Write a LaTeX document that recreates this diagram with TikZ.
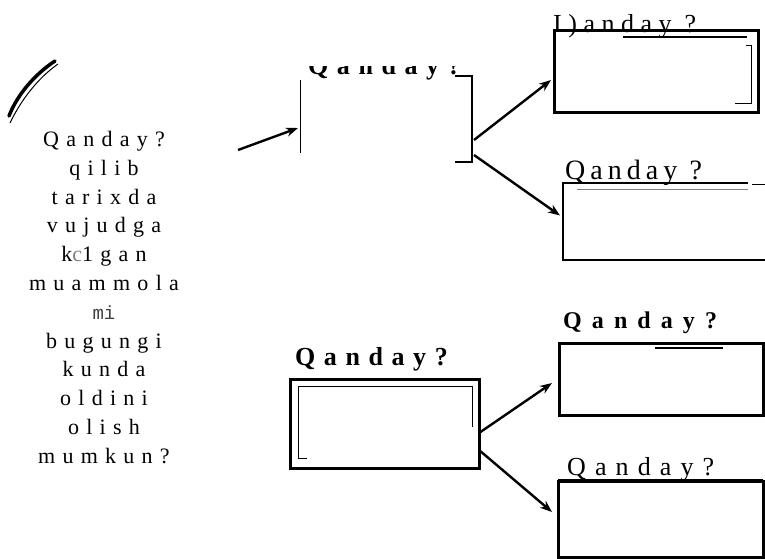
\documentclass[tikz,border=0pt]{standalone}
\usepackage{fontspec}
\setmainfont{Liberation Serif}
\newfontfamily\monof{Liberation Mono}
\usetikzlibrary{arrows.meta,calc}
\tikzset{
  arr/.style={line width=2.4pt,-{Stealth[length=12pt,width=9pt]}},
  frame/.style={draw,line width=3pt,inner sep=0pt,outer sep=0pt},
  area/.style={inner sep=0pt,outer sep=0pt},
  lbl/.style={inner sep=0pt,anchor=base west},
}
\begin{document}
\begin{tikzpicture}[x=1pt,y=-1pt]
\useasboundingbox (0,0) rectangle (765,558);

% arc at top left
\draw[line width=3.5pt,line cap=round] (55,61) .. controls (35,74) and (17,95) .. (9,116);
\draw[line width=1pt] (58,64) .. controls (38,78) and (21,100) .. (10,123);

% left text
\node[align=center,inner sep=0pt,anchor=north,
      font=\fontsize{22}{28.8}\selectfont\addfontfeature{LetterSpace=33}] (txt) at (104,131)
 {Qanday?\\qilib\\tarixda\\vujudga\\k{\color{gray}c}1gan\\muammola\\
  {\monof\color{darkgray}\fontsize{19}{28.8}\selectfont mi}\\bugungi\\kunda\\oldini\\olish\\mumkun?};

% middle top (open) box
\node[area,minimum width=172pt,minimum height=86pt] (mid) at (386,119) {};
\draw[line width=1pt] ($(mid.north west)+(0,4)$) -- ($(mid.south west)+(0,-9)$);
\draw[line width=2pt] ($(mid.north east)+(-17,0)$) -- (mid.north east) -- (mid.south east) -- ($(mid.south east)+(-17,0)$);
\begin{scope}
  \clip (290,66) rectangle (470,90);
  \node[lbl,font=\bfseries\fontsize{26}{26}\selectfont\addfontfeature{LetterSpace=33}] (t0) at (308,74) {Qanday?};
\end{scope}
\coordinate (s0) at (238,150);
\draw[arr] (s0) -- ($(mid.west)+(-2,9)$);
\coordinate (mo1) at ($(mid.east)+(2,21)$);
\coordinate (mo2) at ($(mid.east)+(2,36)$);

% top right box
\node[frame,minimum width=204pt,minimum height=82pt] (b1) at (656,71) {};
\node[lbl,font=\fontsize{26}{26}\selectfont\addfontfeature{LetterSpace=25}] (t1) at (553,32) {I)anday ?};
\draw[line width=1.6pt] (623,37) -- (747,37);
\draw[line width=1pt] (746,45) -- (751,45) -- (751,103) -- (735,103);
\draw[arr] (mo1) -- ($(b1.west)+(-3,9)$);

% second right box (open right side)
\node[area,minimum width=202pt,minimum height=77pt] (c1) at (664,221.5) {};
\draw[line width=1.5pt] ($(c1.north west)+(185,0)$) -- (c1.north west) -- (c1.south west) -- (c1.south east);
\draw[line width=1.5pt] ($(c1.north west)+(189,1.5)$) -- ($(c1.north east)+(0,1.5)$);
\draw[gray,line width=1pt] ($(c1.north west)+(14,6)$) -- ($(c1.north west)+(185,6)$);
\node[lbl,font=\fontsize{28}{28}\selectfont\addfontfeature{LetterSpace=18}] (t2) at (565,179) {Qanday ?};
\draw[arr] (mo2) -- ($(c1.west)+(-3,-6)$);

% lower left box
\node[frame,minimum width=189pt,minimum height=89pt] (d1) at (384.5,423.5) {};
\draw[line width=0.8pt] (307,458) -- (298,458) -- (298,386) -- (472,386) -- (472,427);
\node[lbl,font=\bfseries\fontsize{26}{26}\selectfont\addfontfeature{LetterSpace=33}] (t3) at (295,365) {Qanday?};
\coordinate (do1) at ($(d1.east)+(0,9.5)$);
\coordinate (do2) at ($(d1.east)+(0,26.5)$);

% lower right boxes
\node[frame,minimum width=204pt,minimum height=72pt] (e1) at (661,379) {};
\draw[line width=2pt] (655,347.5) -- (723,347.5);
\node[lbl,font=\bfseries\fontsize{24}{24}\selectfont\addfontfeature{LetterSpace=42}] (t4) at (563,328) {Qanday?};
\draw[arr] (do1) -- ($(e1.west)+(-7,4)$);

\node[frame,minimum width=205pt,minimum height=76pt] (f1) at (660.5,519) {};
\draw[line width=4.5pt] (f1.north west) -- (f1.north east);
\node[lbl,font=\fontsize{26}{26}\selectfont\addfontfeature{LetterSpace=35}] (t5) at (567,475) {Qanday?};
\draw[arr] (do2) -- ($(f1.west)+(-6,-7)$);
\end{tikzpicture}
\end{document}
